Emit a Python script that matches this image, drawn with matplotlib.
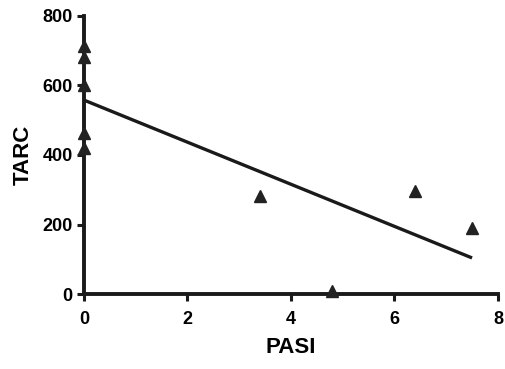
import matplotlib
matplotlib.use("Agg")
import matplotlib.pyplot as plt

# data
pasi = [0, 0, 0, 0, 0, 3.4, 4.8, 6.4, 7.5]
tarc = [712, 682, 601, 463, 420, 282, 8, 296, 190]

# regression line endpoints
fit_x = [0, 7.5]
fit_y = [558, 104]

x_ticks = [0, 2, 4, 6, 8]
y_ticks = [0, 200, 400, 600, 800]

plt.rcParams["font.family"] = ["Liberation Sans", "DejaVu Sans"]
plt.rcParams["font.weight"] = "bold"

fig = plt.figure(figsize=(5.05, 3.69), dpi=100)
ax = fig.add_axes((0.166, 0.203, 0.82, 0.754))

ax.plot(fit_x, fit_y, color="#1a1a1a", linewidth=2.4, solid_capstyle="butt")
ax.plot(pasi, tarc, linestyle="none", marker="^", markersize=8.5,
        color="#222222", clip_on=False, zorder=5)

ax.set_xlim(0, 8)
ax.set_ylim(0, 800)
ax.set_xticks(x_ticks)
ax.set_yticks(y_ticks)

for side in ("top", "right"):
    ax.spines[side].set_visible(False)
for side in ("left", "bottom"):
    ax.spines[side].set_linewidth(2.8)
    ax.spines[side].set_color("#1a1a1a")

ax.tick_params(axis="both", direction="out", length=5, width=2.2,
               color="#1a1a1a", labelsize=13)
ax.tick_params(axis="x", pad=7.5)
ax.tick_params(axis="y", pad=3)
for lab in ax.get_xticklabels() + ax.get_yticklabels():
    lab.set_fontweight("bold")

ax.set_xlabel("PASI", fontsize=16, fontweight="bold", labelpad=6)
ax.set_ylabel("TARC", fontsize=16, fontweight="bold", labelpad=6)

fig.savefig("out.png", dpi=100)
